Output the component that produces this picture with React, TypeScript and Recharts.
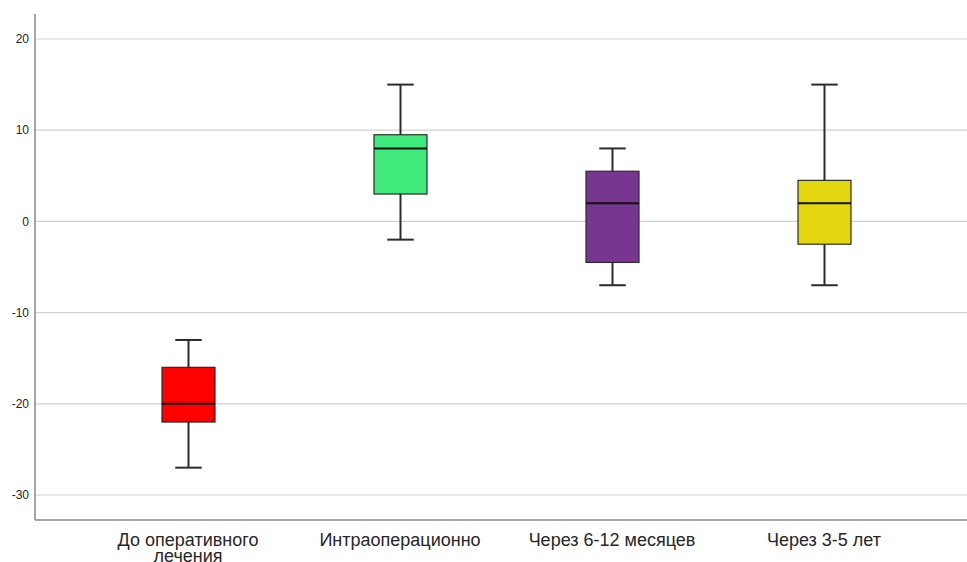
import React from 'react';
import { ComposedChart, Bar, XAxis, YAxis, CartesianGrid, Cell } from 'recharts';

const categories = ['До оперативного лечения', 'Интраоперационно', 'Через 6-12 месяцев', 'Через 3-5 лет'];
const categoryLines = [['До оперативного', 'лечения'], ['Интраоперационно'], ['Через 6-12 месяцев'], ['Через 3-5 лет']];
const mins = [-27, -2, -7, -7];
const q1s = [-22, 3, -4.5, -2.5];
const medians = [-20, 8, 2, 2];
const q3s = [-16, 9.5, 5.5, 4.5];
const maxs = [-13, 15, 8, 15];
const colors = ['#ff0000', '#3fe97b', '#773690', '#e3d60e'];
const yTicks = [-30, -20, -10, 0, 10, 20];

const data = categories.map((name, i) => ({
  name,
  min: mins[i],
  q1: q1s[i],
  median: medians[i],
  q3: q3s[i],
  max: maxs[i],
  color: colors[i],
}));

const BoxShape = (props: any) => {
  const { x, y, width, height, payload } = props;
  const { min, max, q1, q3, median, color } = payload;
  const toY = (v: number) => y + ((max - v) / (max - min)) * height;
  const cx = x + width / 2;
  const capHalf = width / 4;
  const yMax = toY(max);
  const yMin = toY(min);
  const yQ1 = toY(q1);
  const yQ3 = toY(q3);
  const yMed = toY(median);
  const stroke = '#2b2b2b';
  return (
    <g>
      <line x1={cx} x2={cx} y1={yMax} y2={yQ3} stroke={stroke} strokeWidth={2} />
      <line x1={cx} x2={cx} y1={yQ1} y2={yMin} stroke={stroke} strokeWidth={2} />
      <line x1={cx - capHalf} x2={cx + capHalf} y1={yMax} y2={yMax} stroke={stroke} strokeWidth={2} />
      <line x1={cx - capHalf} x2={cx + capHalf} y1={yMin} y2={yMin} stroke={stroke} strokeWidth={2} />
      <rect x={x} y={yQ3} width={width} height={yQ1 - yQ3} fill={color} stroke={stroke} strokeWidth={1.2} />
      <line x1={x} x2={x + width} y1={yMed} y2={yMed} stroke="#111" strokeWidth={2} />
    </g>
  );
};

const XTick = (props: any) => {
  const { x, y, index } = props;
  const lines = categoryLines[index] || [];
  return (
    <g>
      {lines.map((l: string, i: number) => (
        <text
          key={i}
          x={x}
          y={y + 20 + i * 16}
          textAnchor="middle"
          fill="#262626"
          fontSize={18}
          fontFamily="Liberation Sans, Arial, sans-serif"
        >
          {l}
        </text>
      ))}
    </g>
  );
};

export default function App() {
  return (
    <div style={{ position: 'absolute', left: 0, top: 0, background: '#fff' }}>
      <ComposedChart
        width={967}
        height={562}
        data={data}
        margin={{ top: 14, right: 0, bottom: 0, left: 0 }}
        barSize={53}
      >
        <CartesianGrid vertical={false} syncWithTicks stroke="#d2d2d2" strokeWidth={1.2} />
        <XAxis
          dataKey="name"
          type="category"
          padding={{ left: 47, right: 37 }}
          tickLine={false}
          tickSize={4}
          tickMargin={2}
          axisLine={{ stroke: '#8a8a8a', strokeWidth: 1.5 }}
          tick={<XTick />}
          interval={0}
          height={42}
        />
        <YAxis
          type="number"
          domain={[-32.74, 22.74]}
          ticks={yTicks}
          allowDataOverflow
          width={35}
          tickLine={false}
          tickSize={4}
          tickMargin={2}
          axisLine={{ stroke: '#8a8a8a', strokeWidth: 1.5 }}
          tick={{ fill: '#222', fontSize: 12, fontFamily: 'Liberation Sans, Arial, sans-serif' }}
        />
        <Bar
          dataKey={(d: any) => [d.min, d.max]}
          shape={<BoxShape />}
          isAnimationActive={false}
        >
          {data.map((d, i) => (
            <Cell key={i} fill={d.color} />
          ))}
        </Bar>
      </ComposedChart>
    </div>
  );
}
